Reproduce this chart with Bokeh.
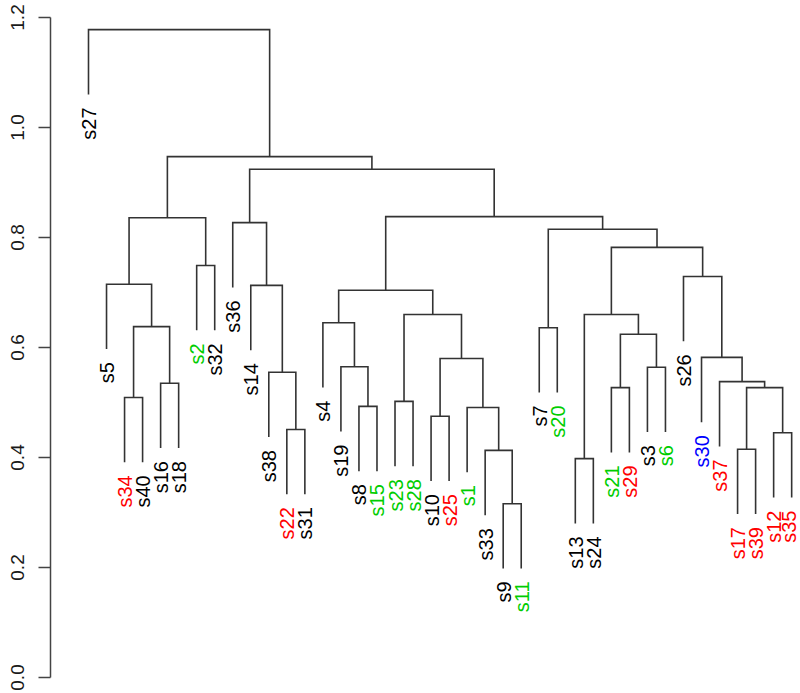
from bokeh.plotting import figure
from bokeh.models import FixedTicker, ColumnDataSource
from bokeh.embed import file_html
from bokeh.resources import INLINE
from bokeh.core.properties import value

# ---- data ----
leaf_order = ["s27", "s5", "s34", "s40", "s16", "s18", "s2", "s32", "s36", "s14",
              "s38", "s22", "s31", "s4", "s19", "s8", "s15", "s23", "s28", "s10",
              "s25", "s1", "s33", "s9", "s11", "s7", "s20", "s13", "s24", "s21",
              "s29", "s3", "s6", "s26", "s30", "s37", "s17", "s39", "s12", "s35"]

leaf_colors = ["black", "black", "red", "black", "black", "black", "green", "black", "black", "black",
               "black", "red", "black", "black", "black", "black", "green", "green", "green", "black",
               "red", "green", "black", "black", "green", "black", "green", "black", "black", "green",
               "red", "black", "green", "black", "blue", "red", "red", "red", "red", "red"]

# merges (children are leaf names or "m<k>" = k-th merge), with heights
merge_left = ["s34", "s16", "m0", "s5", "s2", "m3", "s22", "s38", "s14", "s36",
              "s8", "s19", "s4", "s23", "s10", "s9", "s33", "s1", "m14", "m13",
              "m12", "s7", "s13", "s21", "s3", "m23", "m22", "s17", "s12", "m27",
              "s37", "s30", "s26", "m26", "m21", "m20", "m9", "m5", "s27"]
merge_right = ["s40", "s18", "m1", "m2", "s32", "m4", "s31", "m6", "m7", "m8",
               "s15", "m10", "m11", "s28", "s25", "s11", "m15", "m16", "m17", "m18",
               "m19", "s20", "s24", "s29", "s6", "m24", "m25", "s39", "s35", "m28",
               "m29", "m30", "m31", "m32", "m33", "m34", "m35", "m36", "m37"]
merge_height = [0.509, 0.535, 0.638, 0.715, 0.749, 0.836, 0.451, 0.555, 0.713, 0.827,
                0.493, 0.565, 0.645, 0.502, 0.475, 0.316, 0.413, 0.491, 0.580, 0.660,
                0.704, 0.636, 0.398, 0.527, 0.564, 0.624, 0.660, 0.415, 0.445, 0.527,
                0.538, 0.582, 0.729, 0.782, 0.815, 0.838, 0.924, 0.947, 1.178]

y_ticks = [0.0, 0.2, 0.4, 0.6, 0.8, 1.0, 1.2]
y_tick_labels = ["0.0", "0.2", "0.4", "0.6", "0.8", "1.0", "1.2"]

color_map = {"black": "#000000", "red": "#FF0000", "green": "#00CD00", "blue": "#0000FF"}

# ---- geometry from the tree ----
hang = 0.1 * max(merge_height)
leaf_x = {name: i + 1 for i, name in enumerate(leaf_order)}
node_x = {}
node_top = {}
leaf_bottom = {}
xs_list, ys_list = [], []

for k, (a, b, h) in enumerate(zip(merge_left, merge_right, merge_height)):
    pts = []
    for c in (a, b):
        if c.startswith("m"):
            pts.append((node_x[c], node_top[c]))
        else:
            lb = h - hang
            leaf_bottom[c] = lb
            pts.append((leaf_x[c], lb))
    (x1, y1), (x2, y2) = pts
    xs_list.append([x1, x1, x2, x2])
    ys_list.append([y1, h, h, y2])
    node_x["m%d" % k] = (x1 + x2) / 2
    node_top["m%d" % k] = h

# keep the last label inside the right edge of the page
label_dx = [0.5] * (len(leaf_order) - 1) + [-2.5]

label_src = ColumnDataSource(dict(
    x=[leaf_x[n] for n in leaf_order],
    y=[leaf_bottom[n] for n in leaf_order],
    text=leaf_order,
    color=[color_map[c] for c in leaf_colors],
    dx=label_dx,
))

# ---- figure ----
px_per_unit_x = 18.03
px_per_unit_y = 550.0
frame_w = 750
x_start = 1 - 38 / px_per_unit_x
x_end = x_start + frame_w / px_per_unit_x
y_end = 1.2 + 17 / px_per_unit_y
y_start = -16 / px_per_unit_y

p = figure(width=800, height=693, output_backend="svg", toolbar_location=None,
           x_range=(x_start, x_end), y_range=(y_start, y_end),
           x_axis_location=None, y_axis_location="left")
p.min_border_left = 50
p.min_border_right = 0
p.min_border_top = 0
p.min_border_bottom = 0
p.outline_line_color = None
p.xgrid.visible = False
p.ygrid.visible = False
p.background_fill_color = "white"
p.border_fill_color = "white"

ax = p.yaxis[0]
ax.ticker = FixedTicker(ticks=y_ticks)
ax.major_label_overrides = {t: l for t, l in zip(y_ticks, y_tick_labels)}
ax.bounds = (0, 1.2)
ax.major_label_orientation = "vertical"
ax.major_label_text_font = "Liberation Sans"
ax.major_label_text_font_size = "19px"
ax.major_label_text_color = "#1a1a1a"
ax.major_label_standoff = 15
ax.major_tick_out = 12
ax.major_tick_in = 0
ax.minor_tick_out = 0
ax.minor_tick_in = 0
ax.axis_line_color = "#444444"
ax.axis_line_width = 1.5
ax.major_tick_line_color = "#444444"
ax.major_tick_line_width = 1.5

p.multi_line(xs=xs_list, ys=ys_list, line_color="#333333", line_width=1.6,
             line_join="miter")

p.text(x="x", y="y", text="text", source=label_src, text_color="color",
       angle=1.5707963, text_align="right", text_baseline="middle",
       text_font=value("Liberation Sans"), text_font_size="20px",
       x_offset="dx", y_offset=13)

open("out.html", "w").write(file_html(p, INLINE))
